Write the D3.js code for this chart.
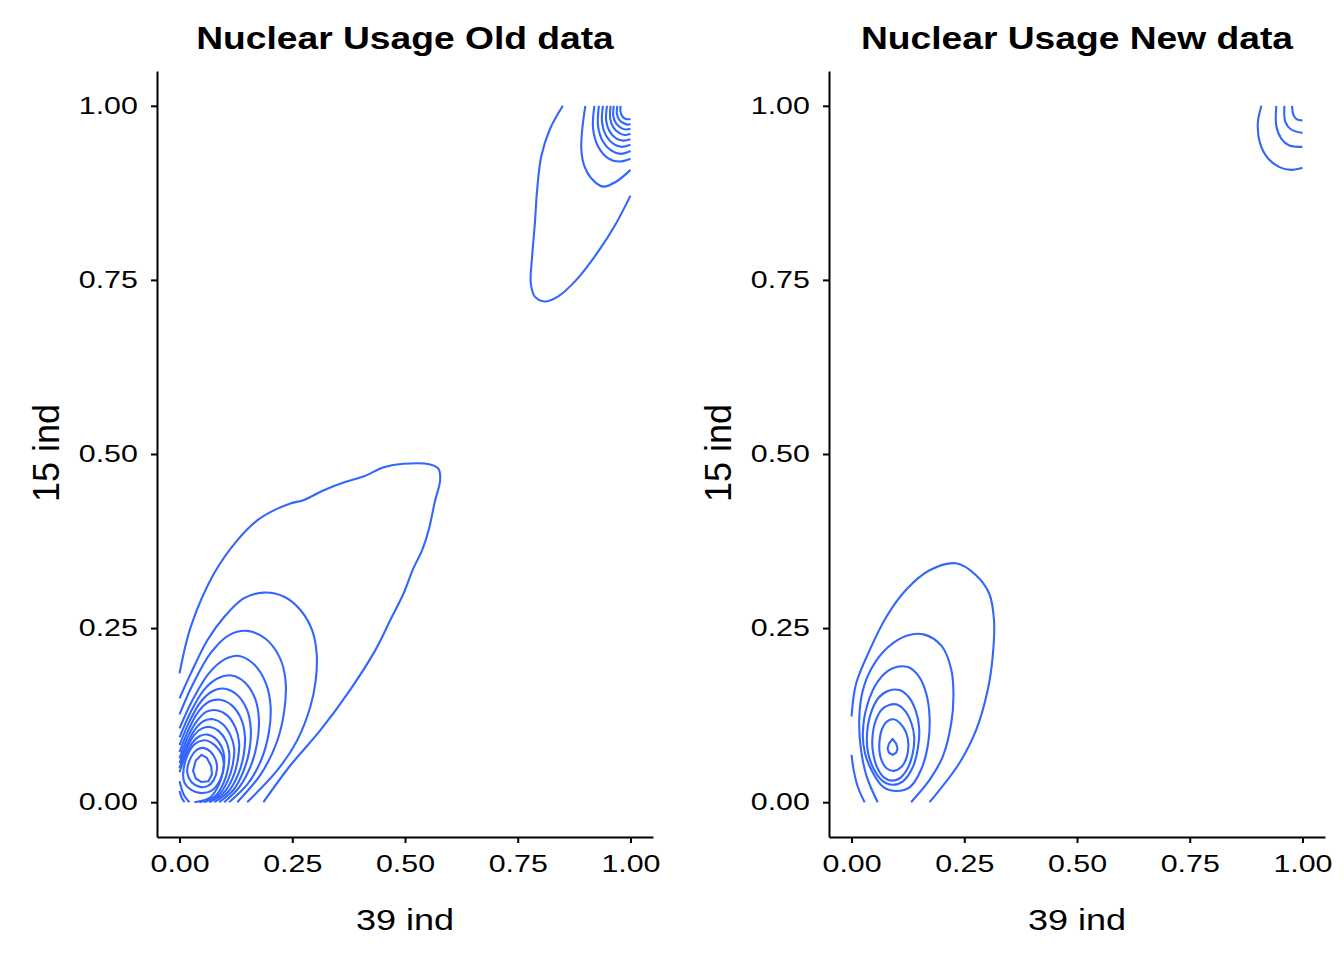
<!DOCTYPE html>
<html>
<head>
<meta charset="utf-8">
<script src="https://cdn.jsdelivr.net/npm/d3@7"></script>
<style>
  body { margin: 0; background: #fff; }
  text { font-family: "Liberation Sans", Arial, Helvetica, sans-serif; fill: #000; }
</style>
</head>
<body>
<div id="chart"></div>
<script>
const panelTitles = ['Nuclear Usage Old data', 'Nuclear Usage New data'];
const xLabel = '39 ind';
const yLabel = '15 ind';
const xTicks = [0, 0.25, 0.5, 0.75, 1];
const yTicks = [0, 0.25, 0.5, 0.75, 1];

// old data, lower-left bump, outer to inner ([x, y])
const oldLevel1 = [[0,0.185],[0.025,0.252],[0.077,0.329],[0.128,0.376],[0.173,0.405],[0.209,0.419],[0.246,0.429],[0.276,0.434],[0.320,0.448],[0.364,0.459],[0.409,0.468],[0.453,0.481],[0.497,0.486],[0.556,0.485],[0.574,0.479],[0.578,0.463],[0.566,0.431],[0.553,0.392],[0.538,0.362],[0.518,0.335],[0.497,0.300],[0.467,0.261],[0.434,0.218],[0.378,0.161],[0.312,0.103],[0.246,0.053],[0.186,0]];
const oldLevel2 = [[0,0.149],[0.025,0.185],[0.062,0.233],[0.099,0.266],[0.143,0.293],[0.187,0.301],[0.232,0.295],[0.268,0.276],[0.294,0.247],[0.304,0.214],[0.302,0.175],[0.290,0.137],[0.261,0.089],[0.217,0.046],[0.150,0]];
const oldLevel3 = [[0,0.126],[0.03,0.170],[0.07,0.215],[0.11,0.240],[0.150,0.246],[0.19,0.235],[0.222,0.208],[0.235,0.175],[0.232,0.13],[0.215,0.085],[0.18,0.04],[0.128,0]];
const oldLevel4 = [[0,0.106],[0.03,0.148],[0.065,0.185],[0.10,0.205],[0.132,0.210],[0.165,0.198],[0.192,0.170],[0.202,0.137],[0.198,0.100],[0.182,0.062],[0.152,0.027],[0.110,0]];
const oldLevel5 = [[0,0.093],[0.025,0.130],[0.055,0.162],[0.085,0.178],[0.115,0.182],[0.145,0.172],[0.168,0.148],[0.176,0.118],[0.172,0.085],[0.158,0.052],[0.133,0.022],[0.099,0]];
const oldLevel6 = [[0,0.082],[0.022,0.116],[0.048,0.145],[0.075,0.160],[0.100,0.163],[0.128,0.154],[0.150,0.132],[0.158,0.105],[0.155,0.075],[0.142,0.045],[0.120,0.018],[0.088,0]];
const oldLevel7 = [[0,0.072],[0.02,0.104],[0.043,0.131],[0.067,0.145],[0.090,0.147],[0.116,0.139],[0.137,0.119],[0.145,0.095],[0.142,0.067],[0.130,0.040],[0.108,0.015],[0.077,0]];
const oldLevel8 = [[0,0.063],[0.018,0.093],[0.039,0.117],[0.060,0.130],[0.082,0.132],[0.105,0.125],[0.124,0.107],[0.132,0.086],[0.129,0.060],[0.118,0.035],[0.096,0.012],[0.066,0]];
const oldLevel9 = [[0,0.056],[0.017,0.084],[0.036,0.106],[0.055,0.117],[0.075,0.119],[0.096,0.112],[0.113,0.096],[0.121,0.078],[0.118,0.054],[0.107,0.031],[0.086,0.010],[0.055,0]];
const oldLevel10 = [[0,0.049],[0.015,0.076],[0.032,0.096],[0.050,0.106],[0.068,0.108],[0.087,0.102],[0.103,0.088],[0.110,0.072],[0.108,0.050],[0.098,0.028],[0.078,0.008],[0.044,0]];
const oldLevel11 = [[0,0.043],[0.014,0.068],[0.029,0.086],[0.045,0.095],[0.062,0.097],[0.079,0.092],[0.093,0.080],[0.099,0.066],[0.097,0.046],[0.088,0.026],[0.068,0.007],[0.033,0]];
const oldLevel12 = [[0.008,0.040],[0.018,0.068],[0.035,0.084],[0.056,0.089],[0.078,0.082],[0.094,0.068],[0.098,0.052],[0.090,0.032],[0.072,0.017],[0.048,0.013],[0.025,0.018],[0.011,0.028]];
const oldLevel13 = [[0.017,0.044],[0.025,0.064],[0.038,0.075],[0.052,0.078],[0.068,0.073],[0.080,0.061],[0.083,0.047],[0.076,0.032],[0.062,0.023],[0.045,0.022],[0.028,0.028]];
const oldCore = [[0.030,0.045],[0.036,0.060],[0.049,0.068],[0.060,0.064],[0.070,0.052],[0.072,0.040],[0.064,0.030],[0.048,0.029],[0.036,0.034]];
const oldCorner1 = [[0,0.030],[0.010,0.010],[0.022,0]];
const oldCorner2 = [[0,0.016],[0.005,0.006],[0.011,0]];

// old data, upper-right bump
const oldPeak1 = [[0.850,1],[0.821,0.966],[0.802,0.927],[0.793,0.879],[0.788,0.831],[0.782,0.784],[0.779,0.745],[0.788,0.726],[0.810,0.719],[0.839,0.726],[0.880,0.750],[0.931,0.793],[0.968,0.831],[1,0.871]];
const oldPeak2 = [[0.900,1],[0.893,0.966],[0.891,0.937],[0.898,0.913],[0.913,0.896],[0.939,0.884],[0.968,0.891],[1,0.908]];
const oldPeak3 = [[0.920,1],[0.917,0.968],[0.928,0.942],[0.950,0.925],[0.975,0.920],[1,0.924]];
const oldPeak4 = [[0.930,1],[0.928,0.972],[0.938,0.950],[0.957,0.936],[0.978,0.931],[1,0.935]];
const oldPeak5 = [[0.939,1],[0.937,0.976],[0.946,0.957],[0.963,0.945],[0.981,0.941],[1,0.944]];
const oldPeak6 = [[0.948,1],[0.946,0.979],[0.954,0.963],[0.969,0.953],[0.984,0.950],[1,0.952]];
const oldPeak7 = [[0.956,1],[0.955,0.982],[0.962,0.969],[0.975,0.961],[0.987,0.958],[1,0.960]];
const oldPeak8 = [[0.963,1],[0.962,0.985],[0.969,0.974],[0.980,0.968],[0.990,0.966],[1,0.967]];
const oldPeak9 = [[0.971,1],[0.970,0.988],[0.976,0.979],[0.985,0.975],[0.993,0.973],[1,0.974]];
const oldPeak10 = [[0.978,1],[0.978,0.991],[0.983,0.984],[0.990,0.981],[1,0.981]];

// new data, lower-left bump
const newLevel1 = [[0,0.123],[0.010,0.170],[0.040,0.218],[0.077,0.266],[0.121,0.305],[0.173,0.333],[0.232,0.343],[0.276,0.326],[0.305,0.300],[0.316,0.261],[0.313,0.209],[0.302,0.161],[0.276,0.103],[0.239,0.056],[0.173,0]];
const newLevel1b = [[0,0.068],[0.005,0.045],[0.015,0.020],[0.029,0]];
const newLevel2 = [[0.058,0],[0.034,0.036],[0.021,0.075],[0.017,0.118],[0.024,0.158],[0.045,0.193],[0.080,0.222],[0.122,0.239],[0.160,0.241],[0.200,0.224],[0.221,0.191],[0.226,0.156],[0.221,0.113],[0.202,0.065],[0.173,0.032],[0.132,0]];
const newLevel3 = [[0.025,0.098],[0.035,0.140],[0.060,0.175],[0.090,0.192],[0.125,0.194],[0.150,0.180],[0.166,0.155],[0.173,0.123],[0.170,0.085],[0.155,0.048],[0.130,0.022],[0.100,0.016],[0.070,0.022],[0.045,0.045],[0.030,0.070]];
const newLevel4 = [[0.034,0.094],[0.042,0.126],[0.060,0.150],[0.082,0.160],[0.106,0.161],[0.128,0.150],[0.143,0.130],[0.150,0.106],[0.147,0.077],[0.135,0.049],[0.114,0.030],[0.092,0.025],[0.068,0.031],[0.049,0.048],[0.037,0.070]];
const newLevel5 = [[0.046,0.089],[0.052,0.114],[0.067,0.133],[0.085,0.140],[0.102,0.140],[0.120,0.130],[0.133,0.113],[0.139,0.093],[0.135,0.068],[0.123,0.047],[0.106,0.034],[0.089,0.031],[0.071,0.036],[0.056,0.051],[0.048,0.070]];
const newLevel6 = [[0.062,0.087],[0.067,0.104],[0.079,0.116],[0.093,0.119],[0.108,0.113],[0.121,0.100],[0.126,0.084],[0.122,0.064],[0.111,0.051],[0.093,0.045],[0.077,0.049],[0.066,0.061],[0.062,0.073]];
const newCore = [[0.083,0.084],[0.091,0.091],[0.099,0.084],[0.102,0.077],[0.099,0.071],[0.091,0.068],[0.083,0.071],[0.080,0.077]];

// new data, upper-right bump
const newPeak1 = [[0.909,1],[0.901,0.975],[0.906,0.946],[0.923,0.925],[0.949,0.912],[0.975,0.908],[1,0.911]];
const newPeak2 = [[0.942,1],[0.942,0.971],[0.953,0.953],[0.971,0.943],[1,0.941]];
const newPeak3 = [[0.960,1],[0.962,0.977],[0.975,0.966],[1,0.961]];
const newPeak4 = [[0.977,1],[0.980,0.987],[0.987,0.981],[1,0.979]];

const oldOpen = [oldLevel1, oldLevel2, oldLevel3, oldLevel4, oldLevel5, oldLevel6, oldLevel7, oldLevel8, oldLevel9, oldLevel10, oldLevel11,
  oldCorner1, oldCorner2,
  oldPeak1, oldPeak2, oldPeak3, oldPeak4, oldPeak5, oldPeak6, oldPeak7, oldPeak8, oldPeak9, oldPeak10];
const oldRings = [oldLevel12, oldLevel13];
const newOpen = [newLevel1, newLevel1b, newLevel2, newPeak1, newPeak2, newPeak3, newPeak4];
const newRings = [newLevel3, newLevel4, newLevel5, newLevel6];

const width = 1344;
const height = 960;
const tickStretch = 1.32; // text in the reference is drawn wide
const labelStretch = 1.2;
const lineColor = '#3366FF';

const svg = d3.select('#chart')
  .append('svg')
  .attr('width', width)
  .attr('height', height);

function drawPanel(left, title, openLines, rings, core) {
  const x = d3.scaleLinear().domain([-0.05, 1.05]).range([left, left + 496]);
  const y = d3.scaleLinear().domain([-0.05, 1.05]).range([837, 71]);
  const g = svg.append('g');

  const line = d3.line().x((d) => x(d[0])).y((d) => y(d[1])).curve(d3.curveCatmullRom);
  const ring = d3.line().x((d) => x(d[0])).y((d) => y(d[1])).curve(d3.curveCatmullRomClosed);
  const poly = d3.line().x((d) => x(d[0])).y((d) => y(d[1])).curve(d3.curveLinearClosed);

  const marks = g.append('g')
    .attr('fill', 'none')
    .attr('stroke', lineColor)
    .attr('stroke-width', 2.1)
    .attr('stroke-linejoin', 'round');

  marks.selectAll('.open').data(openLines).enter().append('path').attr('class', 'open').attr('d', line);
  marks.selectAll('.ring').data(rings).enter().append('path').attr('class', 'ring').attr('d', ring);
  marks.append('path').datum(core).attr('d', poly);

  const xAxis = g.append('g')
    .attr('transform', 'translate(0,837)')
    .call(d3.axisBottom(x).tickValues(xTicks).tickFormat(d3.format('.2f')).tickSize(6).tickPadding(13).tickSizeOuter(0));
  const yAxis = g.append('g')
    .attr('transform', `translate(${left},0)`)
    .call(d3.axisLeft(y).tickValues(yTicks).tickFormat(d3.format('.2f')).tickSize(6).tickPadding(8.5).tickSizeOuter(0));

  [xAxis, yAxis].forEach((a) => {
    a.select('.domain').attr('stroke', '#000').attr('stroke-width', 2);
    a.selectAll('.tick line').attr('stroke', '#000').attr('stroke-width', 2);
    a.selectAll('.tick text')
      .attr('font-size', 23)
      .attr('font-family', '"Liberation Sans", Arial, sans-serif')
      .attr('fill', '#000')
      .attr('transform', `scale(${tickStretch},1)`);
  });

  g.append('text')
    .attr('transform', `translate(${left + 248},930) scale(${labelStretch},1)`)
    .attr('text-anchor', 'middle')
    .attr('font-size', 30)
    .text(xLabel);

  g.append('text')
    .attr('transform', `translate(${left - 98},453) rotate(-90)`)
    .attr('text-anchor', 'middle')
    .attr('font-size', 36)
    .text(yLabel);

  g.append('text')
    .attr('transform', `translate(${left + 248},49) scale(${labelStretch},1)`)
    .attr('text-anchor', 'middle')
    .attr('font-size', 31)
    .attr('font-weight', 'bold')
    .text(title);
}

drawPanel(157, panelTitles[0], oldOpen, oldRings, oldCore);
drawPanel(829, panelTitles[1], newOpen, newRings, newCore);
</script>
</body>
</html>
